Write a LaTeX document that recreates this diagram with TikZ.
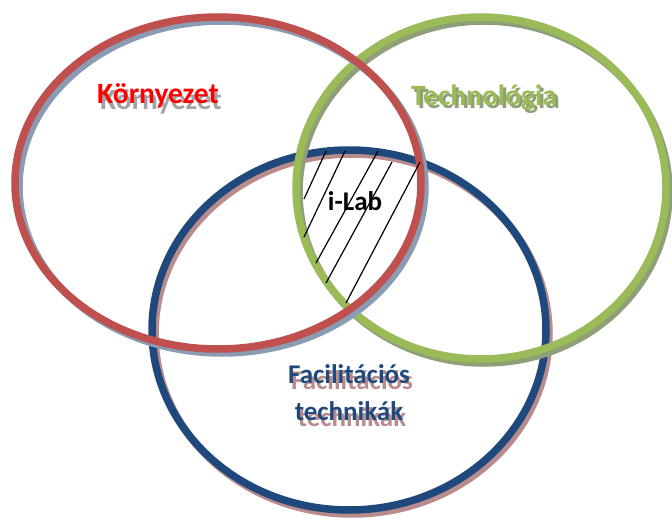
\documentclass[tikz,border=0pt]{standalone}
\usepackage{fontspec}
\setmainfont{Carlito}
\definecolor{cred}{HTML}{C0504D}
\definecolor{cgreen}{HTML}{9BBB59}
\definecolor{cblue}{HTML}{1F497D}
\definecolor{shred}{HTML}{8A9BB2}
\definecolor{shgreen}{HTML}{8F9F78}
\definecolor{shblue}{HTML}{B88C8C}
\definecolor{tred}{HTML}{FF0000}
\definecolor{shtext}{HTML}{A0A4AA}
\tikzset{
  ring/.style={line width=7.5pt},
  shade/.style={line width=7.5pt},
  lbl/.style={font=\bfseries\fontsize{29.5}{37}\selectfont, inner sep=0pt, align=center},
  slbl/.style={font=\bfseries\fontsize{27}{37}\selectfont, inner sep=0pt, align=center},
  hatch/.style={line width=1.2pt, black}
}
\begin{document}
\begin{tikzpicture}[x=1pt,y=-1pt]
\useasboundingbox (0,0) rectangle (672,519);
% blue
\draw[shade,shblue] (352,334) ellipse [x radius=197, y radius=180];
\draw[ring,cblue] (349,330) ellipse [x radius=197, y radius=180];
% green
\draw[shade,shgreen] (484,192) ellipse [x radius=185, y radius=171];
\draw[ring,cgreen] (481,188) ellipse [x radius=185, y radius=171];
% red
\draw[shade,shred] (222,187) ellipse [x radius=203, y radius=166];
\draw[ring,cred] (218,183) ellipse [x radius=203, y radius=166];
% hatching
\coordinate (h1a) at (304,199); \coordinate (h1b) at (326,151);
\coordinate (h2a) at (304,237); \coordinate (h2b) at (345,151);
\coordinate (h3a) at (316,263); \coordinate (h3b) at (378,151);
\coordinate (h4a) at (326,283); \coordinate (h4b) at (392,162);
\coordinate (h5a) at (346,303); \coordinate (h5b) at (420,162);
\draw[hatch] (h1a) -- (h1b);
\draw[hatch] (h2a) -- (h2b);
\draw[hatch] (h3a) -- (h3b);
\draw[hatch] (h4a) -- (h4b);
\draw[hatch] (h5a) -- (h5b);
% labels
\node[lbl, text=shtext] (kshadow) at (161,102) {Környezet};
\node[lbl, text=tred] (k) at (158,96) {Környezet};
\node[lbl, text=shgreen] (tshadow) at (487,101) {Technológia};
\node[lbl, text=cgreen] (t) at (484,98) {Technológia};
\node[lbl, font=\bfseries\fontsize{27}{32}\selectfont, text=black] (ilab) at (355,201) {i-Lab};
\node[slbl, text=shblue] (fshadow) at (352,399) {Facilitációs\\technikák};
\node[slbl, text=cblue] (f) at (349,393) {Facilitációs\\technikák};
\end{tikzpicture}
\end{document}
